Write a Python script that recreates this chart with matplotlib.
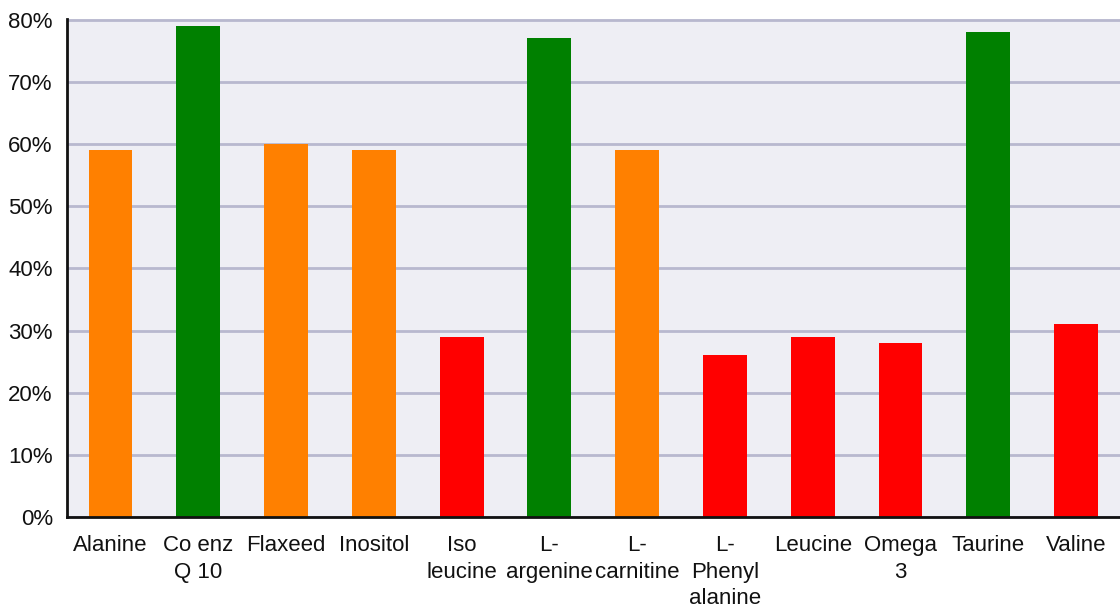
import numpy as np
import matplotlib
matplotlib.use("Agg")
import matplotlib.pyplot as plt
from matplotlib.ticker import PercentFormatter

### data
categories = ["Alanine", "Co enz\nQ 10", "Flaxeed", "Inositol", "Iso\nleucine",
              "L-\nargenine", "L-\ncarnitine", "L-\nPhenyl\nalanine", "Leucine",
              "Omega\n3", "Taurine", "Valine"]
values = [59, 79, 60, 59, 29, 77, 59, 26, 29, 28, 78, 31]
colors = ["#FF8000", "#008000", "#FF8000", "#FF8000", "#FF0000", "#008000",
          "#FF8000", "#FF0000", "#FF0000", "#FF0000", "#008000", "#FF0000"]
yticks = [0, 10, 20, 30, 40, 50, 60, 70, 80]

plt.rcParams["font.family"] = ["Liberation Sans", "DejaVu Sans"]

fig = plt.figure(figsize=(11.2, 6.12), dpi=100)
ax = fig.add_axes([0.0595, 0.155, 0.9405, 0.814])
ax.set_facecolor("#EEEEF4")

x = np.arange(len(categories)) + 0.5
ax.bar(x, values, width=0.5, color=colors, zorder=3)

ax.set_xlim(0, len(categories))
ax.set_ylim(0, 80.1)
ax.set_yticks(yticks)
ax.yaxis.set_major_formatter(PercentFormatter(decimals=0))
ax.set_xticks(x)
ax.set_xticklabels(categories, linespacing=1.35)
ax.grid(axis="y", color="#B8B8CE", linewidth=2.0, zorder=1)
ax.tick_params(axis="both", length=0, labelsize=16, colors="#111111")
ax.tick_params(axis="x", pad=13)
ax.tick_params(axis="y", pad=10)

for side in ["top", "right"]:
    ax.spines[side].set_visible(False)
for side in ["left", "bottom"]:
    ax.spines[side].set_color("#111111")
    ax.spines[side].set_linewidth(2.0)
    ax.spines[side].set_zorder(4)

fig.savefig("out.png", dpi=100)
